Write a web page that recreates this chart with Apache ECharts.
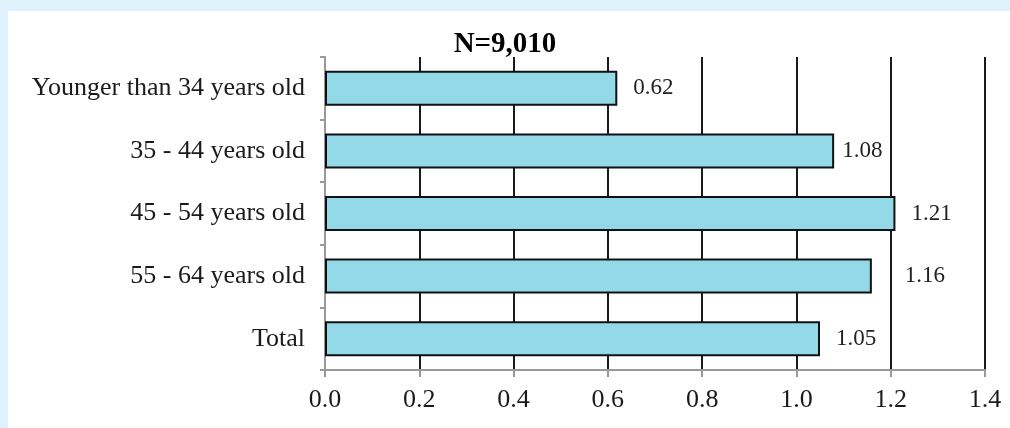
<!DOCTYPE html>
<html>
<head>
<meta charset="utf-8">
<script src="https://cdn.jsdelivr.net/npm/echarts@6/dist/echarts.min.js"></script>
<style>
html,body{margin:0;padding:0;background:#dff2fb;}
#wrap{position:absolute;left:8px;top:11px;right:0;bottom:0;background:#fff;}
#chart{position:absolute;left:-8px;top:-11px;width:1010px;height:428px;}
</style>
</head>
<body>
<div id="wrap"><div id="chart"></div></div>
<script>
var categories = ['Younger than 34 years old','35 - 44 years old','45 - 54 years old','55 - 64 years old','Total'];
var values = [0.62, 1.08, 1.21, 1.16, 1.05];
var titleText = 'N=9,010';
var font = 'Liberation Serif';

// label placement as in the original (some labels were nudged away from gridlines)
function labelDistance(i){
  if (i === 1) return 8;
  if (i === 3) return 33;
  return 16;
}
var seriesData = values.map(function(v, i){
  return {value: v, label: {distance: labelDistance(i)}};
});

var chart = echarts.init(document.getElementById('chart'), null, {renderer:'canvas'});
chart.setOption({
  backgroundColor: 'transparent',
  animation: false,
  title: {text: titleText, left: 500, top: 25, textAlign: 'center',
    textStyle: {fontFamily: font, fontWeight: 'bold', fontSize: 29, color: '#000'}},
  grid: {left: 325, right: 25, top: 57, bottom: 58, containLabel: false},
  xAxis: {
    type: 'value', min: 0, max: 1.4, interval: 0.2,
    axisLine: {show: true, lineStyle: {color: '#999', width: 2}},
    axisTick: {show: true, length: 7, lineStyle: {color: '#999', width: 2}},
    axisLabel: {fontFamily: font, fontSize: 26, color: '#1a1a1a', margin: 17,
      formatter: function(v){return v.toFixed(1);}},
    splitLine: {show: true, showMinLine: false, lineStyle: {color: '#1a1a1a', width: 2}}
  },
  yAxis: {
    type: 'category', data: categories, inverse: true,
    axisLine: {show: true, lineStyle: {color: '#999', width: 2}},
    axisTick: {show: true, length: 5, lineStyle: {color: '#999', width: 2}},
    axisLabel: {fontFamily: font, fontSize: 26, color: '#1a1a1a', margin: 20}
  },
  series: [{
    type: 'bar', data: seriesData, barWidth: 35,
    itemStyle: {color: '#94d9e8', borderColor: '#111', borderWidth: 2},
    label: {show: true, position: 'right', distance: 16, fontFamily: font, fontSize: 23, color: '#222',
      formatter: function(p){return p.value.toFixed(2);}}
  }]
});
</script>
</body>
</html>
